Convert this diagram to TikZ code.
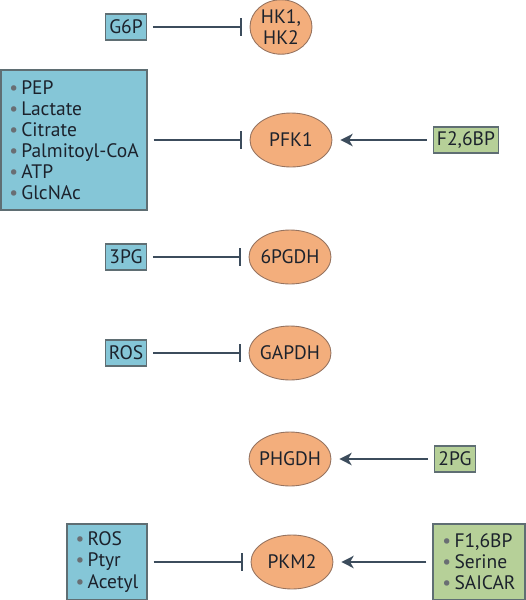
\documentclass[tikz,border=0pt]{standalone}
\usepackage{fontspec}
\setmainfont{PT Sans}
\usetikzlibrary{shapes.geometric,arrows.meta}

\definecolor{effblue}{RGB}{133,198,215}
\definecolor{actgreen}{RGB}{182,208,152}
\definecolor{enzorange}{RGB}{243,174,124}
\definecolor{boxline}{RGB}{95,110,115}
\definecolor{enzline}{RGB}{150,115,95}
\definecolor{linkcol}{RGB}{60,76,92}
\definecolor{dotgray}{RGB}{105,110,115}
\definecolor{labeltext}{RGB}{28,34,44}

\newcommand{\bul}{{\color{dotgray}\textbullet}\,}

\tikzset{
	x=0.02cm, y=-0.02cm,
	every node/.style={font=\fontsize{11.1}{12}\selectfont, text=labeltext},
	effector/.style={draw=boxline, fill=effblue, line width=0.6pt, inner xsep=2pt, inner ysep=1pt, minimum height=0.52cm},
	activator/.style={effector, fill=actgreen},
	listbox/.style={align=left, anchor=center, inner xsep=2.5pt},
	enzyme/.style={ellipse, draw=enzline, fill=enzorange, line width=0.5pt, minimum width=1.64cm, minimum height=1.08cm, inner xsep=-5pt, inner ysep=1pt, align=center},
	inhibit/.style={draw=linkcol, line width=1.1pt, -{Bar[width=10pt]}, shorten <=3.5pt, shorten >=4.5pt},
	activate/.style={draw=linkcol, line width=1.1pt, -{Stealth[length=7pt,width=7pt,inset=2pt]}, shorten <=3.5pt, shorten >=4.5pt}
}

\begin{document}
\begin{tikzpicture}
	\useasboundingbox (0,0) rectangle (526,600);

	% ENZYMES
	\node[enzyme, minimum width=1.24cm] (hk) at (281,27) {HK1,\\HK2};
	\node[enzyme] (pfk) at (291,140) {PFK1};
	\node[enzyme] (pgd) at (290,257) {6PGDH};
	\node[enzyme] (gapdh) at (290,353) {GAPDH};
	\node[enzyme] (phgdh) at (290,459) {PHGDH};
	\node[enzyme] (pkm) at (292,562) {PKM2};

	% INHIBITORS
	\node[effector] (g6p) at (126,27) {G6P};
	\node[effector, listbox, minimum width=2.92cm, minimum height=2.8cm] (pfkinh) at (74,140)
		{\bul PEP\\ \bul Lactate\\ \bul Citrate\\ \bul Palmitoyl-CoA\\ \bul ATP\\ \bul GlcNAc};
	\node[effector] (tpg) at (126,257) {3PG};
	\node[effector] (ros) at (126,353) {ROS};
	\node[effector, listbox, minimum width=1.6cm, minimum height=1.52cm] (pkminh) at (107,562)
		{\bul ROS\\ \bul Ptyr\\ \bul Acetyl};

	% ACTIVATORS
	\node[activator] (f26bp) at (466,140) {F2,6BP};
	\node[activator] (tpgact) at (455,459) {2PG};
	\node[activator, listbox, minimum width=1.84cm, minimum height=1.52cm] (pkmact) at (479,562)
		{\bul F1,6BP\\ \bul Serine\\ \bul SAICAR};

	% CONNECTORS
	\draw[inhibit] (g6p) -- (hk);
	\draw[inhibit] (pfkinh) -- (pfk);
	\draw[inhibit] (tpg) -- (pgd);
	\draw[inhibit] (ros) -- (gapdh);
	\draw[inhibit] (pkminh) -- (pkm);

	\draw[activate] (f26bp) -- (pfk);
	\draw[activate] (tpgact) -- (phgdh);
	\draw[activate] (pkmact) -- (pkm);
\end{tikzpicture}
\end{document}
